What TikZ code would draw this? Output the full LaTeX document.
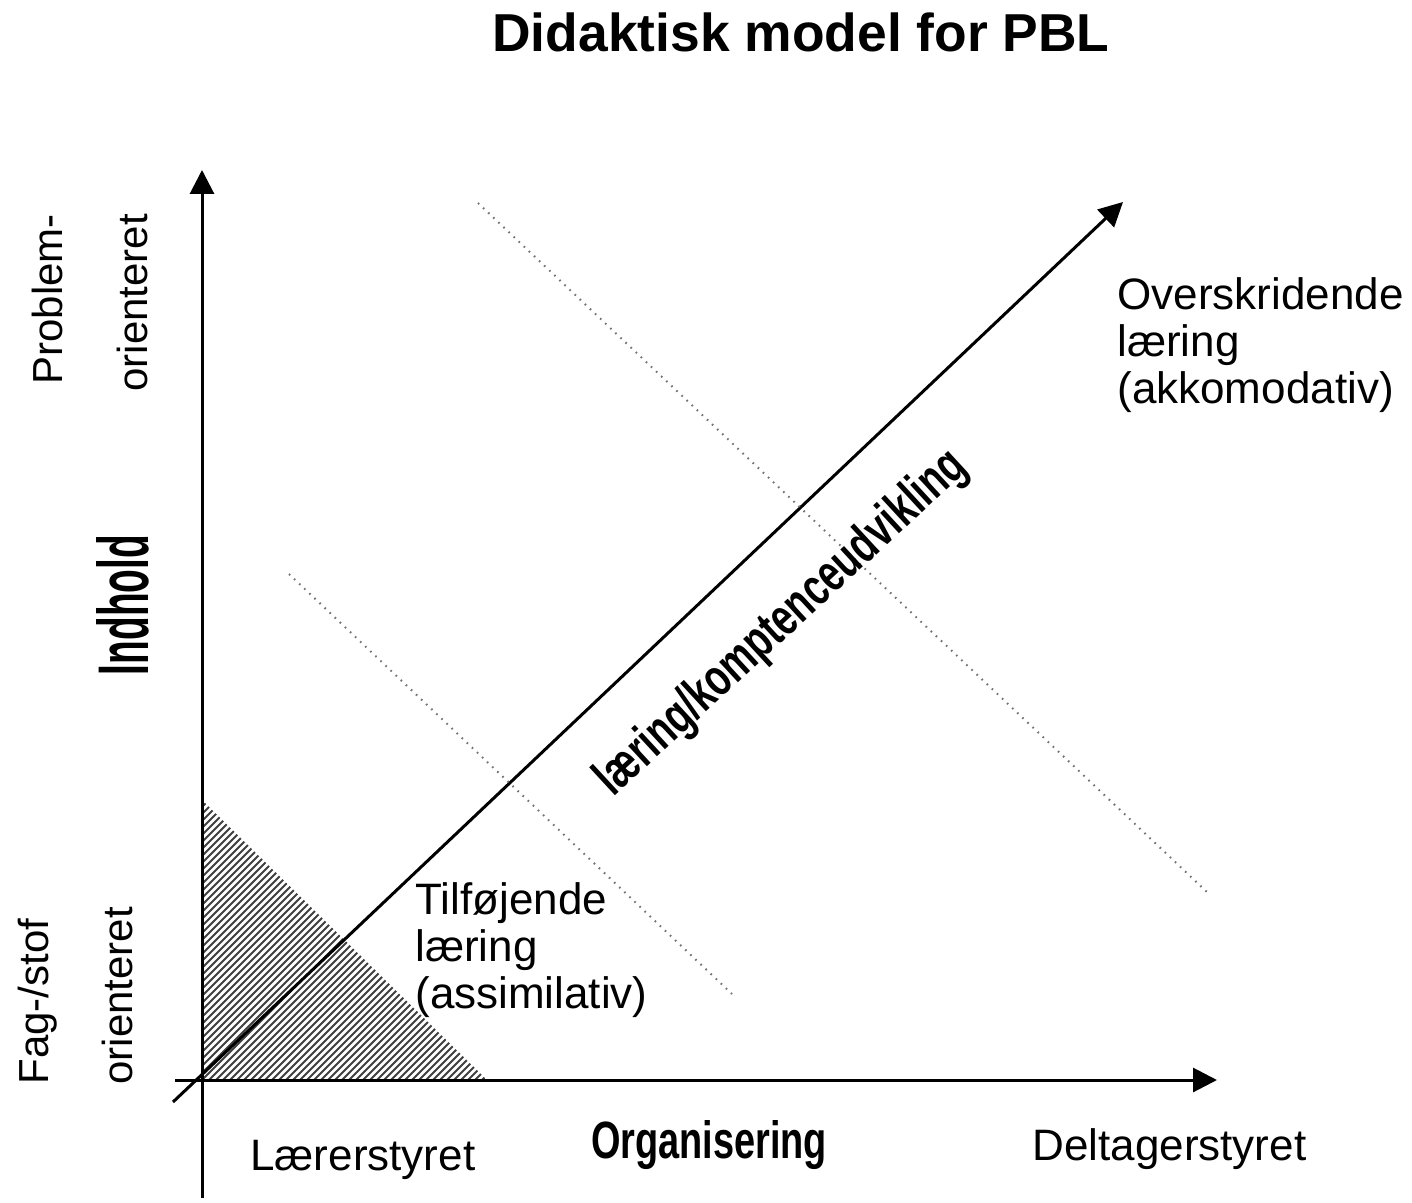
\documentclass[tikz,border=0pt]{standalone}
\usepackage{fontspec}
\setmainfont{Liberation Sans}
\usetikzlibrary{arrows.meta}
\begin{document}
\begin{tikzpicture}[x=0.5pt,y=-0.5pt,
  axis/.style={line width=1.5pt,-{Triangle[length=12pt,width=12pt]}},
  dotline/.style={line width=1pt, black!55, dash pattern=on 0.8pt off 2.7pt},
  hatchline/.style={line width=0.9pt, black!75},
  lbl/.style={font=\fontsize{22}{23.5}\selectfont, align=left, inner sep=0pt},
  rlbl/.style={font=\fontsize{21}{23}\selectfont, rotate=90, inner sep=0pt, anchor=base west},
]
\useasboundingbox[fill=white] (0,0) rectangle (1412,1203);

\coordinate (O) at (202,1080);
\coordinate (ytop) at (202,170);
\coordinate (ybot) at (202,1198);
\coordinate (xl) at (175,1080);
\coordinate (xr) at (1217,1080);
\coordinate (dl) at (173,1102);
\coordinate (dr) at (1123,202);
\coordinate (hA) at (202,800);
\coordinate (hB) at (487,1080);
\coordinate (d1a) at (478,203);
\coordinate (d1b) at (1208,893);
\coordinate (d2a) at (289,574);
\coordinate (d2b) at (732,994);

% hatched triangle
\begin{scope}
  \clip (hA) -- (O) -- (hB) -- cycle;
  \foreach \c in {995,1002,...,1575}
    \draw[hatchline] (\c-1080,1080) -- (\c-800,800);
\end{scope}

% axes
\draw[axis] (ybot) -- (ytop);
\draw[axis] (xl) -- (xr);
\draw[axis] (dl) -- (dr);

% dotted lines
\draw[dotline] (d1a) -- (d1b);
\draw[dotline] (d2a) -- (d2b);

% title
\node[font=\bfseries\fontsize{26.7}{30}\selectfont, inner sep=0pt, anchor=base] (title) at (801,52) {Didaktisk model for PBL};

% left labels
\node[rlbl] (prob) at (62,385) {Problem-};
\node[rlbl] (orient1) at (147,392) {orienteret};
\node[rlbl] (fag) at (48,1085) {Fag-/stof};
\node[rlbl] (orient2) at (132,1085) {orienteret};
\node[inner sep=0pt, rotate=90, anchor=base] (indhold) at (148,605) {\resizebox{70pt}{26pt}{\bfseries Indhold}};

% right / bottom labels
\node[lbl, anchor=north west] (over) at (1117,277) {Overskridende\\læring\\(akkomodativ)};
\node[lbl, anchor=north west] (tilf) at (415,882) {Tilføjende\\læring\\(assimilativ)};
\node[lbl, anchor=base west] (laerer) at (250,1170) {Lærerstyret};
\node[lbl, anchor=base west] (delt) at (1032,1160) {Deltagerstyret};
\node[inner sep=0pt, anchor=base] (org) at (709,1158) {\resizebox{118pt}{19pt}{\bfseries Organisering}};

% diagonal label
\node[inner sep=0pt, rotate=42.7] (laering) at (782,624) {\resizebox{242pt}{19pt}{\bfseries læring/komptenceudvikling}};
\end{tikzpicture}
\end{document}
